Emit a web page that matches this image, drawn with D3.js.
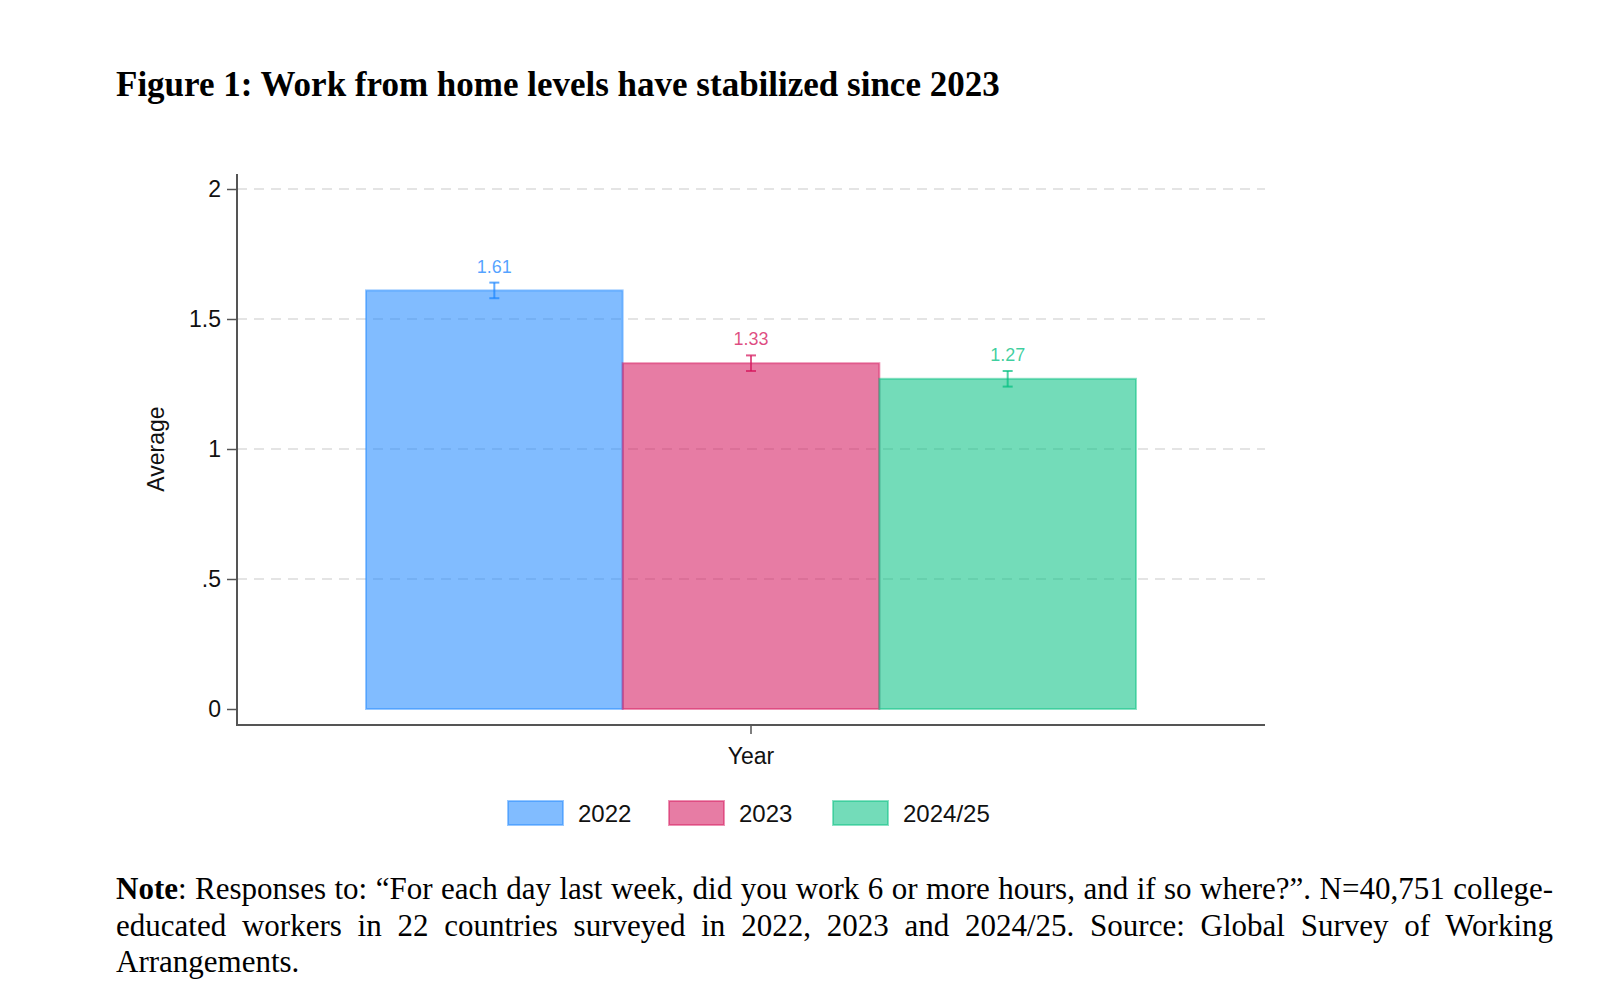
<!DOCTYPE html>
<html lang="en">
<head>
<meta charset="utf-8">
<title>Figure 1</title>
<script src="https://d3js.org/d3.v7.min.js"></script>
<style>
    body, html {
        margin: 0;
        padding: 0;
        width: 100%;
        height: 100%;
        overflow: hidden;
        background: #fff;
    }
    svg { position: absolute; left: 0; top: 0; }
    .title {
        font: bold 35px "Liberation Serif", "Times New Roman", serif;
        fill: #000;
    }
    .tick text, .lbl {
        font-family: "Liberation Sans", Arial, sans-serif;
    }
    #note {
        position: absolute;
        left: 116px;
        top: 871px;
        width: 1437px;
        font: 31px/36.5px "Liberation Serif", "Times New Roman", serif;
        color: #000;
    }
    #note div { white-space: nowrap; }
    #note .j { text-align: justify; text-align-last: justify; }
</style>
</head>
<body>
<svg width="1600" height="997"></svg>
<div id="note">
    <div class="j"><b>Note</b>: Responses to: “For each day last week, did you work 6 or more hours, and if so where?”. N=40,751 college-</div>
    <div class="j">educated workers in 22 countries surveyed in 2022, 2023 and 2024/25. Source: Global Survey of Working</div>
    <div>Arrangements.</div>
</div>
<script>
    var years = ["2022", "2023", "2024/25"];
    var averages = [1.61, 1.33, 1.27];
    var ciLow = [1.58, 1.30, 1.24];
    var ciHigh = [1.64, 1.36, 1.30];
    var valueLabels = ["1.61", "1.33", "1.27"];
    var yTicks = [0, 0.5, 1, 1.5, 2];
    var yTickLabels = ["0", ".5", "1", "1.5", "2"];

    var baseColors = ["#1a85ff", "#d41159", "#00bf7f"];

    var svg = d3.select("svg");

    var plotLeft = 237, plotRight = 1265, axisY = 725;

    var y = d3.scaleLinear().domain([0, 2]).range([709, 189]);
    var x = d3.scaleBand().domain(years).range([366, 1136]).padding(0);
    var color = d3.scaleOrdinal().domain(years).range(baseColors);

    // title
    svg.append("text")
        .attr("class", "title")
        .attr("x", 116)
        .attr("y", 96)
        .text("Figure 1: Work from home levels have stabilized since 2023");

    // grid lines
    svg.append("g")
        .selectAll("line")
        .data(yTicks.filter(function (d) { return d > 0; }))
        .enter().append("line")
        .attr("x1", plotLeft)
        .attr("x2", plotRight)
        .attr("y1", function (d) { return y(d); })
        .attr("y2", function (d) { return y(d); })
        .attr("stroke", "#e4e4e4")
        .attr("stroke-width", 2)
        .attr("stroke-dasharray", "10,7");

    // bars
    var data = years.map(function (yr, i) {
        return { year: yr, avg: averages[i], lo: ciLow[i], hi: ciHigh[i], label: valueLabels[i] };
    });

    svg.append("g")
        .selectAll("rect")
        .data(data)
        .enter().append("rect")
        .attr("x", function (d) { return x(d.year); })
        .attr("width", x.bandwidth())
        .attr("y", function (d) { return y(d.avg); })
        .attr("height", function (d) { return y(0) - y(d.avg); })
        .attr("fill", function (d) { return color(d.year); })
        .attr("fill-opacity", 0.55)
        .attr("stroke", function (d) { return color(d.year); })
        .attr("stroke-opacity", 0.45)
        .attr("stroke-width", 2);

    // error bars
    var eb = svg.append("g")
        .selectAll("g")
        .data(data)
        .enter().append("g")
        .attr("stroke", function (d) { return color(d.year); })
        .attr("stroke-opacity", 0.7)
        .attr("stroke-width", 2);

    eb.append("line")
        .attr("x1", function (d) { return x(d.year) + x.bandwidth() / 2; })
        .attr("x2", function (d) { return x(d.year) + x.bandwidth() / 2; })
        .attr("y1", function (d) { return y(d.lo); })
        .attr("y2", function (d) { return y(d.hi); });
    ["lo", "hi"].forEach(function (k) {
        eb.append("line")
            .attr("x1", function (d) { return x(d.year) + x.bandwidth() / 2 - 5; })
            .attr("x2", function (d) { return x(d.year) + x.bandwidth() / 2 + 5; })
            .attr("y1", function (d) { return y(d[k]); })
            .attr("y2", function (d) { return y(d[k]); });
    });

    // value labels
    svg.append("g")
        .selectAll("text")
        .data(data)
        .enter().append("text")
        .attr("class", "lbl")
        .attr("x", function (d) { return x(d.year) + x.bandwidth() / 2; })
        .attr("y", function (d) { return y(d.hi) - 10; })
        .attr("text-anchor", "middle")
        .attr("font-size", 18)
        .attr("fill", function (d) { return color(d.year); })
        .attr("fill-opacity", 0.75)
        .text(function (d) { return d.label; });

    // y axis
    var yAxis = d3.axisLeft(y)
        .tickValues(yTicks)
        .tickFormat(function (d, i) { return yTickLabels[i]; })
        .tickSize(10)
        .tickPadding(6);

    var gy = svg.append("g")
        .attr("transform", "translate(" + plotLeft + ",0)")
        .call(yAxis);
    gy.select(".domain").remove();
    gy.selectAll(".tick line").attr("stroke", "#555").attr("stroke-width", 1.5);
    gy.selectAll(".tick text").attr("font-size", 23).attr("fill", "#111");

    svg.append("line")
        .attr("x1", plotLeft).attr("x2", plotLeft)
        .attr("y1", 174).attr("y2", axisY + 1)
        .attr("stroke", "#555").attr("stroke-width", 2);

    // x axis
    svg.append("line")
        .attr("x1", plotLeft - 1).attr("x2", plotRight)
        .attr("y1", axisY).attr("y2", axisY)
        .attr("stroke", "#555").attr("stroke-width", 2);

    var xMid = (plotLeft + plotRight) / 2;
    svg.append("line")
        .attr("x1", xMid).attr("x2", xMid)
        .attr("y1", axisY).attr("y2", axisY + 9)
        .attr("stroke", "#555").attr("stroke-width", 1.5);

    svg.append("text")
        .attr("class", "lbl")
        .attr("x", xMid)
        .attr("y", 764)
        .attr("text-anchor", "middle")
        .attr("font-size", 23)
        .attr("fill", "#111")
        .text("Year");

    svg.append("text")
        .attr("class", "lbl")
        .attr("transform", "translate(164,449) rotate(-90)")
        .attr("text-anchor", "middle")
        .attr("font-size", 23)
        .attr("fill", "#111")
        .text("Average");

    // legend
    var legendX = [508, 669, 833];
    var lg = svg.append("g")
        .selectAll("g")
        .data(data)
        .enter().append("g")
        .attr("transform", function (d, i) { return "translate(" + legendX[i] + ",801)"; });

    lg.append("rect")
        .attr("width", 55)
        .attr("height", 24)
        .attr("fill", function (d) { return color(d.year); })
        .attr("fill-opacity", 0.55)
        .attr("stroke", function (d) { return color(d.year); })
        .attr("stroke-opacity", 0.45)
        .attr("stroke-width", 2);

    lg.append("text")
        .attr("class", "lbl")
        .attr("x", 70)
        .attr("y", 21)
        .attr("font-size", 24)
        .attr("fill", "#111")
        .text(function (d) { return d.year; });
</script>
</body>
</html>
